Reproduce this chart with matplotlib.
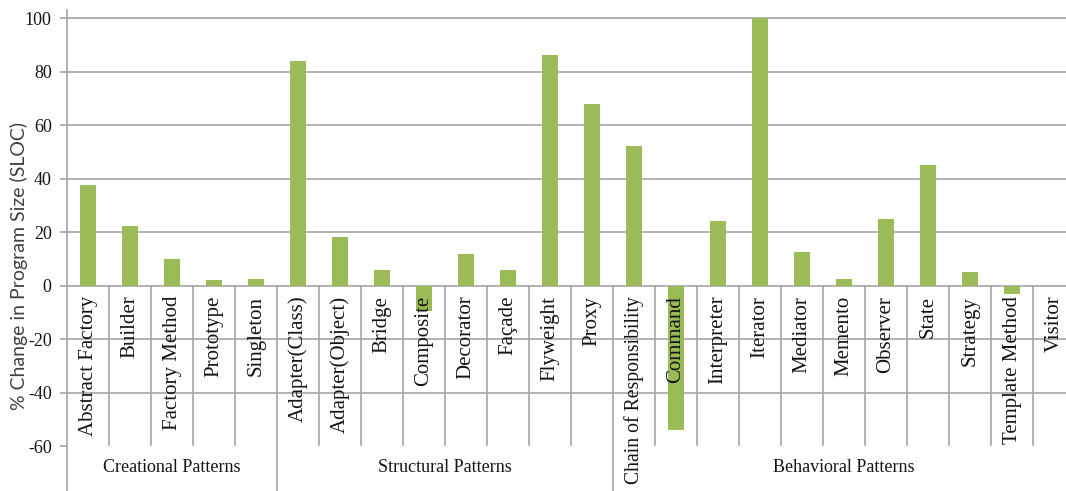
import matplotlib.pyplot as plt

# Design patterns grouped by GoF category
creational = ["Abstract Factory", "Builder", "Factory Method", "Prototype", "Singleton"]
structural = ["Adapter(Class)", "Adapter(Object)", "Bridge", "Composite", "Decorator",
              "Façade", "Flyweight", "Proxy"]
behavioral = ["Chain of Responsibility", "Command", "Interpreter", "Iterator", "Mediator",
              "Memento", "Observer", "State", "Strategy", "Template Method", "Visitor"]

creational_change = [37.5, 22.4, 9.8, 1.9, 2.6]
structural_change = [83.9, 18.0, 5.7, -9.5, 11.8, 5.7, 86.2, 67.7]
behavioral_change = [52.1, -54.0, 24.2, 100.0, 12.5, 2.5, 24.7, 44.9, 5.1, -3.2, 0.0]

group_names = ["Creational Patterns", "Structural Patterns", "Behavioral Patterns"]
y_ticks = [-60, -40, -20, 0, 20, 40, 60, 80, 100]

BAR = "#9BBB59"
GRID = "#A6A6A6"
TEXT = "#141414"


def main():
    groups = [creational, structural, behavioral]
    names = creational + structural + behavioral
    values = creational_change + structural_change + behavioral_change
    x = list(range(len(names)))

    fig = plt.figure(figsize=(10.66, 4.91), dpi=100)
    ax = fig.add_axes([67 / 1066, 0.0, 1008 / 1066, 0.9796])

    ax.bar(x, values, width=0.4, color=BAR, zorder=2)
    ax.set_xlim(-0.5, len(names) - 0.5)
    ax.set_ylim(-76.8, 103)

    # horizontal gridlines (none at -60, that row holds the group names)
    for v in y_ticks:
        if v >= -40:
            ax.axhline(v, color=GRID, lw=1.2, zorder=1)

    ax.set_yticks(y_ticks)
    ax.set_yticklabels([str(v) for v in y_ticks], family="Liberation Serif",
                       fontsize=13, color=TEXT)
    ax.tick_params(axis="y", direction="out", length=5, width=1.2, color=GRID, pad=6)
    ax.set_xticks([])
    for side in ["top", "right", "bottom"]:
        ax.spines[side].set_visible(False)
    ax.spines["left"].set_color(GRID)
    ax.spines["left"].set_linewidth(1.2)

    ax.set_ylabel("% Change in Program Size (SLOC)", family="Lato", fontsize=14,
                  color="#404040")
    ax.yaxis.set_label_coords(-0.039, 0.468)

    # category labels written vertically beneath the zero line
    for i, name in enumerate(names):
        size = 14.2 if len(name) > 20 else 15  # longest one has to fit above the edge
        ax.text(i, -3.8, name, rotation=90, ha="center", va="top",
                family="Liberation Serif", fontsize=size, color=TEXT, zorder=3)

    # separators: short ones between categories, long ones between groups
    bounds = []
    start = 0
    for g in groups:
        bounds.append((start, start + len(g)))
        start += len(g)
    for lo, hi in bounds:
        for k in range(lo + 1, hi):
            ax.plot([k - 0.5, k - 0.5], [0, -59.5], color=GRID, lw=1.2, zorder=1)
        if hi < len(names):
            ax.plot([hi - 0.5, hi - 0.5], [0, -76.8], color=GRID, lw=1.2, zorder=1)

    for (lo, hi), gname in zip(bounds, group_names):
        ax.text((lo + hi - 1) / 2, -68, gname, ha="center", va="center",
                family="Liberation Serif", fontsize=13, color=TEXT)

    fig.savefig("out.png", dpi=100)


if __name__ == "__main__":
    main()
